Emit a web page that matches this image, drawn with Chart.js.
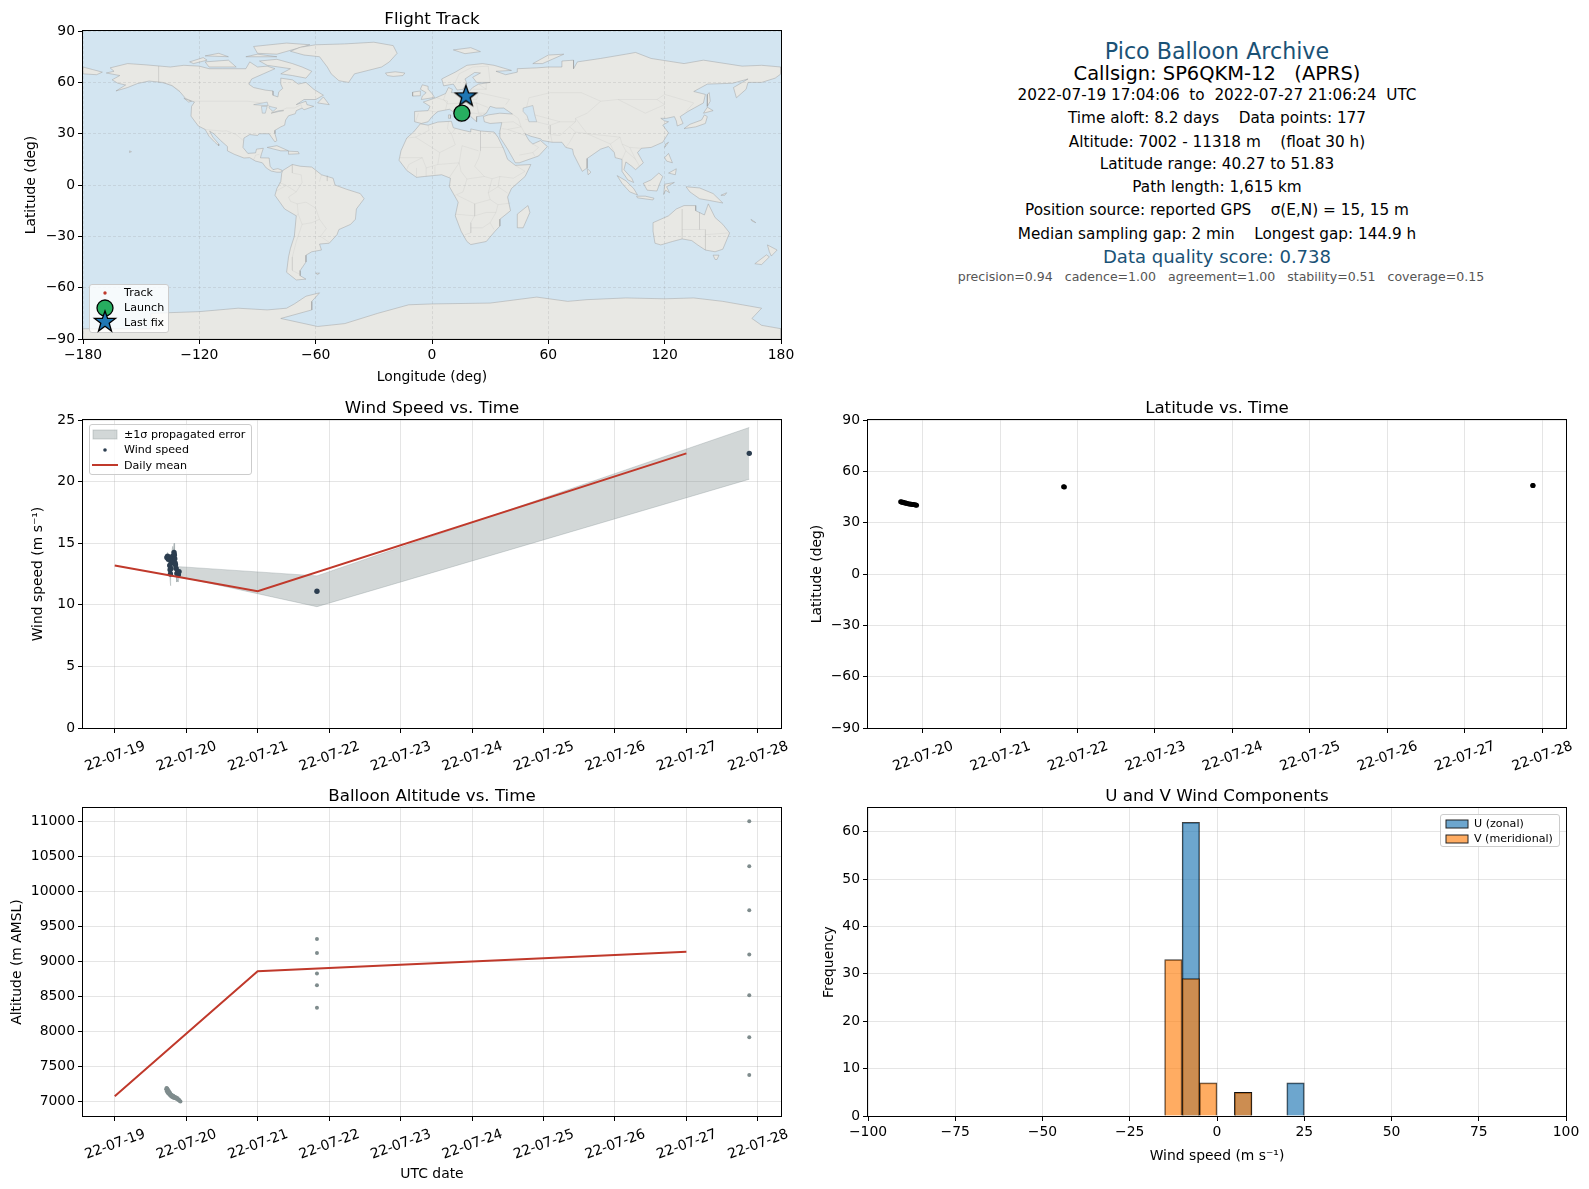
<!DOCTYPE html>
<html>
<head>
<meta charset="utf-8">
<title>Pico Balloon Archive</title>
<script src="https://cdn.jsdelivr.net/npm/chart.js@4/dist/chart.umd.js"></script>
<style>
html, body { margin: 0; padding: 0; background: #fff; }
body { position: relative; width: 1589px; height: 1189px; overflow: hidden; font-family: "DejaVu Sans", sans-serif; color: #000; }
canvas { position: absolute; }
.info { position: absolute; left: 817px; width: 800px; text-align: center; white-space: pre; transform: translateY(-50%); font-size: 15.28px; line-height: 1.2; }
.legend { position: absolute; box-sizing: border-box; background: rgba(255,255,255,0.8); border: 1px solid #ccc; border-radius: 3px; font-size: 11.1px; color: #000; }
.legend div { position: absolute; white-space: pre; line-height: 14px; }
.legend svg { position: absolute; overflow: visible; }
</style>
</head>
<body>

<canvas id="mapChart" width="800" height="376" style="left:0;top:10px"></canvas>
<canvas id="windChart" width="800" height="384" style="left:0;top:399px"></canvas>
<canvas id="latChart" width="785" height="384" style="left:800px;top:399px"></canvas>
<canvas id="altChart" width="800" height="396" style="left:0;top:787px"></canvas>
<canvas id="histChart" width="785" height="378" style="left:800px;top:787px"></canvas>

<div class="info" style="top:50.5px;font-size:22.2px;color:#1a5276">Pico Balloon Archive</div>
<div class="info" style="top:74px;font-size:19.44px">Callsign: SP6QKM-12   (APRS)</div>
<div class="info" style="top:94.5px">2022-07-19 17:04:06  to  2022-07-27 21:06:24  UTC</div>
<div class="info" style="top:117.5px">Time aloft: 8.2 days    Data points: 177</div>
<div class="info" style="top:141.5px">Altitude: 7002 - 11318 m    (float 30 h)</div>
<div class="info" style="top:163.5px">Latitude range: 40.27 to 51.83</div>
<div class="info" style="top:186.5px">Path length: 1,615 km</div>
<div class="info" style="top:209.5px">Position source: reported GPS    σ(E,N) = 15, 15 m</div>
<div class="info" style="top:233.5px">Median sampling gap: 2 min    Longest gap: 144.9 h</div>
<div class="info" style="top:257px;font-size:18.05px;color:#1a5276">Data quality score: 0.738</div>
<div class="info" style="top:277px;left:821px;font-size:12.56px;color:#555">precision=0.94   cadence=1.00   agreement=1.00   stability=0.51   coverage=0.15</div>

<div class="legend" style="left:89px;top:284px;width:80px;height:49px">
  <svg style="left:0;top:0" width="40" height="49">
    <circle cx="15" cy="8" r="1.7" fill="#c0392b"/>
    <circle cx="15" cy="23" r="8" fill="#27ae60" stroke="#000" stroke-width="1.3"/>
    <polygon points="15,26 17.6,33.4 25.5,33.4 19.2,38.2 21.5,46 15,41.3 8.5,46 10.8,38.2 4.5,33.4 12.4,33.4" fill="#1f77b4" stroke="#000" stroke-width="1.3"/>
  </svg>
  <div style="left:34px;top:1px">Track</div>
  <div style="left:34px;top:16px">Launch</div>
  <div style="left:34px;top:31px">Last fix</div>
</div>

<div class="legend" style="left:89px;top:424px;width:163px;height:51px">
  <svg style="left:0;top:0" width="30" height="50">
    <rect x="3" y="5" width="24" height="9" fill="rgba(127,140,141,0.35)" stroke="rgba(127,140,141,0.35)"/>
    <circle cx="15" cy="25" r="1.8" fill="#2c3e50"/>
    <line x1="2" y1="40" x2="28" y2="40" stroke="#c0392b" stroke-width="2"/>
  </svg>
  <div style="left:34px;top:3px">±1σ propagated error</div>
  <div style="left:34px;top:18px">Wind speed</div>
  <div style="left:34px;top:34px">Daily mean</div>
</div>

<div class="legend" style="left:1440px;top:814px;width:120px;height:33px">
  <svg style="left:0;top:0" width="30" height="32">
    <rect x="5" y="5" width="22" height="8" fill="rgba(31,119,180,0.65)" stroke="#222"/>
    <rect x="5" y="20" width="22" height="8" fill="rgba(255,127,14,0.65)" stroke="#222"/>
  </svg>
  <div style="left:33px;top:2px">U (zonal)</div>
  <div style="left:33px;top:17px">V (meridional)</div>
</div>

<script>
// daily tick labels on the date axes
const dateTicks = {
    19: '22-07-19', 20: '22-07-20', 21: '22-07-21', 22: '22-07-22', 23: '22-07-23',
    24: '22-07-24', 25: '22-07-25', 26: '22-07-26', 27: '22-07-27', 28: '22-07-28'
};
const altTicks = [7000, 7500, 8000, 8500, 9000, 9500, 10000, 10500, 11000];

// wind speed panel, x is the day of July 2022
const windTimes = [19.73, 19.74, 19.75, 19.76, 19.77, 19.775, 19.78, 19.785, 19.79, 19.80, 19.81, 19.82, 19.83, 19.835, 19.84, 19.845, 19.85, 19.86, 19.87, 19.88, 19.89, 19.90, 21.83, 27.88];
const windSpeed = [13.85, 13.95, 13.7, 13.75, 13.2, 12.85, 12.5, 12.95, 13.4, 13.65, 13.95, 13.6, 14.25, 14.05, 13.75, 13.4, 13.25, 12.95, 12.55, 12.6, 12.45, 12.7, 11.1, 22.3];
const windSigma = [0.35, 0.3, 0.3, 0.35, 0.5, 0.9, 0.95, 0.6, 0.5, 0.7, 0.8, 0.8, 0.75, 0.6, 0.6, 0.6, 0.5, 0.5, 0.7, 0.6, 0.6, 0.4, 1.25, 2.1];
const meanDays = [19, 21, 27];
const meanWind = [13.2, 11.1, 22.3];
const meanAlt = [7080, 8860, 9140];

// latitude and altitude panels
const fixTimes = [19.715, 19.725, 19.735, 19.745, 19.755, 19.765, 19.78, 19.79, 19.80, 19.82, 19.835, 19.85, 19.865, 19.88, 19.895, 19.91, 19.92, 21.82, 21.83, 27.88, 27.885];
const fixLat = [42.2, 42.1, 42.0, 41.9, 41.8, 41.6, 41.5, 41.4, 41.2, 41.0, 40.9, 40.8, 40.7, 40.6, 40.5, 40.4, 40.27, 51.0, 50.9, 51.8, 51.83];
const altTimes = [19.72, 19.725, 19.73, 19.735, 19.74, 19.745, 19.75, 19.755, 19.76, 19.77, 19.775, 19.78, 19.79, 19.795, 19.80, 19.81, 19.82, 19.83, 19.84, 19.85, 19.86, 19.87, 19.88, 19.89, 19.90, 19.91, 19.92, 21.83, 21.83, 21.83, 21.83, 21.83, 27.88, 27.88, 27.88, 27.88, 27.88, 27.88, 27.88];
const altValues = [7180, 7195, 7150, 7190, 7130, 7170, 7145, 7115, 7150, 7095, 7125, 7110, 7075, 7100, 7085, 7065, 7085, 7055, 7070, 7050, 7060, 7040, 7050, 7025, 7030, 7010, 7002, 9320, 9120, 8830, 8660, 8340, 11000, 10360, 9730, 9100, 8520, 7920, 7380];

// wind component histogram
const histBinCenters = [-12.5, -7.5, -2.5, 7.5, 22.5];
const uCounts = [null, 62, null, 5, 7];
const vCounts = [33, 29, 7, 5, null];

// flight track on the map
const trackLon = [15.4, 15.5, 15.5, 15.6, 15.6, 15.7, 15.8, 15.8, 15.9, 16.0, 16.0, 16.1, 16.1, 16.2, 16.2, 16.3, 16.3, 17.2, 17.2, 17.5, 17.5];
const launchFix = [15.4, 42.0];
const lastFix = [17.5, 51.83];

// coastlines as lon,lat
const northAmerica = [[-168,65.5],[-164,66.5],[-166,68.5],[-157,71],[-148,70.3],[-141,69.6],[-135,69],[-128,70],[-120,69.5],[-115,68],[-108,68],[-100,68],[-96,68],[-94,72],[-90,69],[-85,69.5],[-81,68],[-87,65],[-93,62],[-94.5,59],[-92,57],[-86,55.5],[-82,55],[-82,52.5],[-79.5,51.5],[-79,54.5],[-77,56.5],[-78,59],[-78,62.5],[-72,61.5],[-69,59],[-65,60],[-61,56],[-56,52.5],[-60,50],[-66,50],[-70,47],[-65,49],[-64.5,47],[-61,46],[-66,44],[-67,45],[-70,43.5],[-70.5,41.7],[-74,40.5],[-75.5,38],[-76,35],[-78,34],[-81,32],[-81,30],[-80,26],[-81,25.2],[-82.8,28],[-84,30],[-89,30],[-90,29],[-94,29.5],[-97,27.5],[-97.5,22],[-95,18.5],[-91,18.8],[-90.5,21],[-87,21.5],[-88,18],[-88.5,15.9],[-84,15.8],[-83.5,11],[-82,9],[-79.5,9.6],[-77.3,8.6],[-78,7.5],[-80,7.5],[-83,8.2],[-85.5,10],[-87.5,13],[-91,14],[-94,16],[-97,15.8],[-102,18],[-105.5,20],[-105.5,22.5],[-109,26],[-112.5,30],[-114.7,31.5],[-113,28],[-110,24],[-110,23],[-112,25],[-115,28.5],[-117,32.5],[-120.5,34.5],[-122.5,37.5],[-124.3,40.3],[-124,46],[-122.5,48.5],[-127,50.5],[-130,54.5],[-134,58],[-139,60],[-146,60.8],[-152,59.3],[-157,57],[-163,55],[-158,58.5],[-162,59.5],[-165,61.5],[-161,64],[-168,65.5]];
const greenland = [[-73,78.2],[-68,80.5],[-60,82],[-45,82.5],[-30,83.5],[-20,81.5],[-18,77],[-22,72],[-26,69],[-33,67],[-40,65],[-43,60],[-48,61],[-52,65],[-54,69],[-58,75],[-66,76],[-73,78.2]];
const southAmerica = [[-77,8.5],[-72,12],[-68,11],[-62,10.5],[-57,6],[-51,4],[-50,0],[-44,-2.5],[-37,-5],[-35,-8],[-39,-14],[-39.5,-20],[-42,-23],[-48,-26],[-49,-29],[-53,-34],[-58,-34.5],[-57,-38],[-62,-39],[-65,-41],[-65,-45],[-68,-50],[-68,-53],[-65,-55],[-70,-55.5],[-75,-51],[-74,-42],[-73,-37],[-71,-30],[-70,-18],[-76,-14],[-81,-6],[-80,-2],[-78,2],[-77.5,7],[-77,8.5]];
const africa = [[-6,35.8],[-2,35],[3,36.8],[10,37.3],[11,33.5],[15,32.3],[20,31],[20,32.8],[25,31.6],[32,31],[34,28],[37,21],[39,15],[43,11.5],[51,12],[48,5],[41,-2],[39,-7],[40.5,-15],[35,-20],[35,-24],[32.5,-27],[28,-33],[20,-34.8],[18,-33],[15,-27],[12,-18],[13.5,-10],[9,-1],[9.5,4],[5,6],[-4,5],[-8,4.5],[-13,8.5],[-17,14.5],[-16,20],[-13,27.5],[-9.5,31],[-6,35.8]];
const eurasia = [[-9,37],[-9,43],[-2,43.5],[-1,46],[-4.5,48.5],[2,51],[7,53.5],[8.5,57],[10.5,56],[10,54],[14,54],[19,54.5],[21,57],[24,59],[30,60],[23,60],[21,63],[25,65.5],[22,65.8],[17,62],[18,59.5],[16,56],[13,55.5],[11,59],[6,58],[5,62],[12,66],[18,70],[26,71],[32,70],[41,67],[33,66.5],[38,64.5],[44,66],[44,68],[54,68.5],[60,69],[67,69],[67,72.5],[73,73],[73,68],[75,72],[87,74],[100,76.5],[105,77.5],[113,74],[130,71],[140,73],[160,69.5],[170,70],[180,69],[180,65],[177,62.5],[170,60],[163,60],[162,56],[157,51],[155.5,57],[163,62],[155,59.5],[142,59],[135,54.7],[141,53],[140,48],[132,43],[128,40],[129.5,36],[126.5,34.5],[126,37.5],[125,40],[121,39],[118,39],[120,37.5],[122,37],[119,35],[122,30.5],[119,25],[113,22],[108,21.5],[106,19],[109,13],[105,9],[103,11],[100,13.5],[99,9],[103,4],[104,1.5],[101,3],[98,8],[98,15],[94.5,16],[94,19],[91,22.5],[87,21],[80,15.5],[80,10],[77.5,8],[73,18],[72.5,21],[69,22],[67,25],[62,25],[57,26],[56,27],[51,28.5],[48,30],[50,26],[52,24],[56,26],[59.5,22.5],[55,17],[45,13],[43,13],[39,21],[35,28],[35,31.5],[36,36.5],[30,36],[27,37],[26.5,40],[29,41],[35,42],[41.5,41.5],[37,45],[33,45],[30,46],[28,42],[26,40.5],[23,40],[23,37],[20,40],[19,42],[14,45.5],[12.5,44],[16,41.5],[18.5,40],[16,38],[12,42],[9,44.3],[3,43],[0,40],[-2,37],[-5.5,36],[-9,37]];
const australia = [[114,-22],[122,-18],[126,-14],[130,-12],[136,-12],[136,-15],[140.5,-17.5],[142.5,-11],[146,-19],[150,-23],[153.5,-28],[150,-37.5],[146,-39],[141,-38],[137,-35],[134,-32.5],[129,-31.5],[124,-33],[118,-35],[115,-34],[114,-27],[114,-22]];
const antarctica = [[-180,-90],[-180,-84],[-145,-84],[-145,-75],[-120,-74],[-100,-72],[-85,-73],[-75,-72],[-71,-69.5],[-65,-65],[-58,-63],[-62,-68],[-62,-73],[-78,-78],[-59,-82.7],[-45,-81],[-28,-75],[-12,-70],[0,-69.5],[30,-69],[54,-65.5],[70,-68],[80,-67],[100,-66],[120,-66.5],[135,-66],[150,-68],[165,-71],[170,-72],[165,-78],[170,-82],[180,-84],[180,-90],[-180,-90]];
const islands = [
    [[-180,69],[-175,67.5],[-170,66],[-173,64.5],[-180,65],[-180,69]],
    [[-80,73.5],[-72,71],[-67,69],[-62,66.5],[-65,62.5],[-72,64],[-78,65],[-73,68],[-85,70],[-89,72.5],[-80,73.5]],
    [[-117,72],[-105,73],[-101,69],[-115,69],[-117,72]],
    [[-125,72],[-118,74.5],[-116,73],[-123,71],[-125,72]],
    [[-90,77],[-80,76.5],[-63,82],[-75,83],[-92,81],[-90,77]],
    [[-96,75],[-80,75],[-90,76.5],[-96,75]],
    [[-117,75.5],[-105,75],[-110,77],[-117,75.5]],
    [[-59,48],[-56,51.5],[-53,47],[-59,48]],
    [[-85,22],[-80,23],[-74,20],[-78,20],[-85,22]],
    [[-74,19.8],[-69,19.5],[-68.5,18.3],[-74,18],[-74,19.8]],
    [[-128,50.8],[-124,49],[-125.5,48.5],[-128,50.8]],
    [[-24,65.5],[-19,66.2],[-14,65.5],[-15,64],[-20,63.5],[-23,64],[-24,65.5]],
    [[-5.5,50],[1.3,51.2],[0,53.5],[-2,56],[-2,57.7],[-5,58.6],[-6,56],[-3,54],[-5,52],[-5.5,50]],
    [[-10,52],[-6,52.2],[-6,55],[-10,54.3],[-10,52]],
    [[11,79],[20,80.3],[25,78],[17,76.8],[11,79]],
    [[52,71],[57,71],[68,76.5],[60,76],[52,71]],
    [[130,33],[136,34],[141,36],[142,40],[140.5,41],[139,38],[133,35.5],[130,33]],
    [[140,42],[145,43.5],[142,45.5],[140,42]],
    [[142,46],[143.5,49],[143,54],[142,53],[142,46]],
    [[120,22],[122,25],[120.5,24],[120,22]],
    [[120,16],[122,18.5],[124,13],[121,14],[120,16]],
    [[122,7],[126,9.5],[125.5,6],[122,7]],
    [[109,1],[113,3],[117,7],[119,5],[117.5,1],[116,-3.5],[111,-3],[109,1]],
    [[95.5,5.5],[100,2.5],[104,-2],[106,-5.8],[102,-4],[98,1],[95.5,5.5]],
    [[105.5,-6.5],[110,-6.5],[114.5,-7.7],[114,-8.7],[106,-7.5],[105.5,-6.5]],
    [[119.5,-5.5],[120,0.5],[125,1.5],[121,-1],[122.5,-4.5],[120.5,-3],[119.5,-5.5]],
    [[131,-1],[138,-1.7],[145,-5],[150,-10.5],[143,-9],[138,-8],[133,-4],[131,-1]],
    [[145,-41],[148,-41],[147,-43.5],[146,-43.5],[145,-41]],
    [[173,-35],[178,-38],[175,-41.5],[174,-39],[173,-35]],
    [[172.5,-40.8],[174,-42],[170,-46.5],[166.5,-46],[172.5,-40.8]],
    [[49.5,-12],[50.5,-16],[47,-25],[44,-25],[44,-17],[49.5,-12]],
    [[80,9.7],[82,7.5],[80.5,6],[80,9.7]],
    [[8.5,41],[9.7,41],[9.5,39],[8.5,39],[8.5,41]],
    [[12.5,38],[15.5,38],[15,36.7],[12.5,38]],
    [[149,-6],[152,-4.5],[151,-6],[149,-6]],
    [[-156,20],[-155,19.5],[-156,19],[-156,20]],
    [[-60,-51.5],[-58,-51.5],[-59,-52.3],[-60,-51.5]],
    [[165,-21],[167,-22],[164.5,-20],[165,-21]]
];
const inlandWater = [
    [[47,45],[52,46.5],[53,41],[54,37],[50,37],[49,40.5],[47,43],[47,45]],
    [[-92,47],[-85,48.5],[-84.5,46.5],[-87,46.5],[-92,47]],
    [[-88,46],[-85,46],[-86,42],[-87.5,42],[-88,46]],
    [[-84,46],[-80,45],[-82,43],[-84,45],[-84,46]],
    [[-83,42],[-79,43],[-76.5,43.5],[-79,43.5],[-83,42]]
];
const countryBorders = [
    [[-123,49],[-95,49],[-88,48],[-83,46],[-82.5,42.5],[-79,43],[-75,45],[-71,45],[-67.5,47],[-67,45]],
    [[-141,69.6],[-141,60],[-135,59],[-130,55]],
    [[-117,32.5],[-108,31.5],[-106,31.7],[-101,29.5],[-97.3,26]],
    [[-92,14.5],[-91,17.5],[-89,17.9]],
    [[-72,12],[-72,7],[-67.5,6],[-67,1.5],[-70,-4],[-74,-7],[-73,-9.5],[-69.5,-11],[-65,-10],[-60,-13.5],[-58,-20],[-54.5,-25.5],[-57.5,-30],[-53,-33.5]],
    [[-79,1.5],[-75.5,0],[-70,-4]],
    [[-80.3,-3.4],[-75.5,-0.5]],
    [[-69.5,-11],[-69,-17],[-70,-18]],
    [[-69,-17],[-67,-23],[-70,-33],[-72,-42],[-72,-50],[-68.5,-52]],
    [[-67,-23],[-62,-22],[-58,-20]],
    [[-60,5],[-60,8.5]],[[-57,6],[-58,2]],[[-54,5.5],[-54,2.3]],
    [[-2,35],[-1.5,32],[-8.5,28],[-13,27.5]],
    [[-8.5,28],[4,19],[12,23.5],[10,30],[8,33],[8.5,37]],
    [[10,30],[12,33]],
    [[25,31.6],[25,20],[24,15.5],[22,11],[27,5],[31,3.7],[35,5],[42,4],[48,8],[43,11.5]],
    [[25,22],[37,22]],
    [[24,20],[15.5,23],[14,13]],
    [[4,19],[3,12],[14,13],[9,4.5]],
    [[-16.5,16],[-5,16],[-12,12],[-13,9]],
    [[-5,16],[-3,10],[3,12]],
    [[-3,5],[-3,10]],[[1.5,6],[1.5,11]],[[-8,4.5],[-8,10]],
    [[14,13],[15,8],[18,3.5],[27,5]],
    [[18,3.5],[16,-4],[12,-6]],
    [[31,3.7],[29,-4.5],[30,-8.5],[22,-11],[13,-6]],
    [[39,-4.7],[34,-1],[35,5]],
    [[29,-4.5],[34,-1]],
    [[30,-8.5],[34,-11.5],[40.5,-10.5]],
    [[22,-11],[22,-18],[12,-17]],
    [[22,-18],[20,-22],[20,-28],[17,-29]],
    [[34,-11.5],[33,-16],[30,-22],[32,-26]],
    [[22,-18],[28,-16],[33,-16]],
    [[20,-25],[26,-25],[30,-22]],
    [[-1.5,43.5],[3,42.5]],[[-8.5,37],[-7,42]],
    [[2.5,51],[8,49],[7,44]],
    [[7,53.5],[6,50],[8,47.5],[17,48],[14,54]],
    [[14,54],[24,54],[23,50],[14,51]],
    [[17,48],[23,48],[29,45.3]],
    [[24,54],[32,52],[40,50],[38,47]],
    [[28,56],[28,60]],[[24,59],[28,56],[21,56]],
    [[30,60],[29,69.5]],[[12,60],[14,65],[21,69],[29,69.5]],
    [[23,48],[24,42],[28,42]],[[19,42],[22,42],[26,41]],
    [[48,42],[50,51],[61,54],[77,54],[87,49],[96,50],[116,50],[120,53],[135,48],[131,43]],
    [[87,49],[80,42],[74,39],[80,30],[97,28],[98,24],[102,22],[108,21.5]],
    [[96,50],[110,42],[120,47],[116,50]],
    [[53,41],[66,37],[74,37],[74,39]],
    [[66,37],[61,35],[61,30],[62,25]],
    [[74,37],[71,34],[66,29],[61,29.5]],
    [[71,34],[74,31],[71,25],[69,22]],
    [[74,31],[80,30],[88,26],[92,24],[94,19]],
    [[92,24],[97,28]],
    [[98,24],[100,20],[98,15]],[[102,22],[105,15],[107,11]],[[100,20],[105,15]],
    [[48,30],[46,34],[44.5,39],[41.5,41.5]],
    [[61,35],[48,38.5]],[[46,34],[39,32.5],[36,33]],
    [[46,34],[42,37],[36,36.5]],
    [[39,32.5],[48,29]],
    [[52,19],[55,22],[52,24]],[[45,17.5],[52,19],[53,17]],
    [[129,-14],[129,-31.5]],[[138,-16],[138,-26]],[[129,-26],[141,-26],[141,-38]],[[141,-29],[153,-28]]
];

const GRID = 'rgba(176,176,176,0.33)';
const FONT_SIZE = 13.9;
const HALF_LINE = FONT_SIZE * 1.2 / 2;

Chart.defaults.font.family = '"DejaVu Sans"';
Chart.defaults.font.size = FONT_SIZE;
Chart.defaults.color = '#000';

const framePlugin = {
    id: 'frame',
    afterDraw(chart) {
        const a = chart.chartArea;
        const ctx = chart.ctx;
        ctx.save();
        ctx.strokeStyle = '#000';
        ctx.lineWidth = 1;
        ctx.strokeRect(Math.round(a.left) - 0.5, Math.round(a.top) - 0.5, Math.round(a.right - a.left) + 1, Math.round(a.bottom - a.top) + 1);
        ctx.restore();
    }
};

const oceanPlugin = {
    id: 'ocean',
    beforeDatasetsDraw(chart) {
        const a = chart.chartArea;
        chart.ctx.save();
        chart.ctx.fillStyle = '#d3e5f1';
        chart.ctx.fillRect(a.left, a.top, a.right - a.left, a.bottom - a.top);
        chart.ctx.restore();
    }
};

function points(xs, ys) {
    return xs.map((x, i) => ({ x: x, y: ys[i] }));
}

function lonLat(list) {
    return list.map(p => ({ x: p[0], y: p[1] }));
}

function minusSign(v) {
    return String(v).replace('-', '\u2212');
}

function axis(opts) {
    const conf = {
        type: 'linear',
        offset: false,
        min: opts.min,
        max: opts.max,
        afterFit: opts.afterFit,
        border: { display: false },
        grid: {
            offset: false,
            color: opts.mapGrid ? 'rgba(150,150,150,0.22)' : GRID,
            tickColor: '#000', tickLength: 5, lineWidth: 1,
            tickBorderDash: [],
            z: opts.mapGrid ? 1 : 0
        },
        ticks: {
            stepSize: opts.step,
            includeBounds: false,
            autoSkip: false,
            padding: 3,
            callback: opts.callback || minusSign
        },
        title: { display: !!opts.title, text: opts.title, padding: 0, font: { size: FONT_SIZE } }
    };
    if (opts.mapGrid) {
        conf.border = { display: false, dash: [3, 2] };
    }
    if (opts.dates) {
        conf.ticks.minRotation = 20;
        conf.ticks.maxRotation = 20;
        conf.ticks.labelOffset = 30;
        conf.ticks.padding = 5;
        conf.ticks.callback = v => dateTicks[Math.round(v)];
    }
    if (opts.fixedTicks) {
        conf.afterBuildTicks = s => { s.ticks = opts.fixedTicks.map(v => ({ value: v })); };
    }
    return conf;
}

function panelOptions(cfg) {
    const padLeft = cfg.yTitleX - HALF_LINE;
    const axisWidth = cfg.plotLeft - padLeft;
    const xAxis = axis(Object.assign({}, cfg.x, { afterFit: s => { s.height = cfg.axisHeight; } }));
    const yAxis = axis(Object.assign({}, cfg.y, { afterFit: s => { s.width = axisWidth; } }));
    return {
        responsive: false,
        animation: false,
        layout: { padding: { left: padLeft, right: 19, top: 0, bottom: 0 } },
        plugins: {
            legend: { display: false },
            tooltip: { enabled: false },
            title: {
                display: true,
                fullSize: false,
                text: cfg.title,
                font: { size: 16.67, weight: 'normal' },
                color: '#000',
                padding: { top: 0, bottom: 1.08 }
            }
        },
        scales: { x: xAxis, y: yAxis }
    };
}

function starMarker() {
    const c = document.createElement('canvas');
    c.width = 26;
    c.height = 26;
    const ctx = c.getContext('2d');
    ctx.beginPath();
    for (let i = 0; i < 10; i++) {
        const r = i % 2 === 0 ? 11 : 4.4;
        const ang = -Math.PI / 2 + i * Math.PI / 5;
        ctx.lineTo(13 + r * Math.cos(ang), 13 + r * Math.sin(ang));
    }
    ctx.closePath();
    ctx.fillStyle = '#1f77b4';
    ctx.fill();
    ctx.strokeStyle = '#000';
    ctx.lineWidth = 1.3;
    ctx.stroke();
    return c;
}

function landSet(list) {
    return {
        data: lonLat(list), showLine: true, pointRadius: 0, tension: 0,
        fill: 'shape', backgroundColor: '#e8e8e4',
        borderColor: 'rgba(150,150,150,0.6)', borderWidth: 0.7, order: 30
    };
}

function waterSet(list) {
    return {
        data: lonLat(list), showLine: true, pointRadius: 0, tension: 0,
        fill: 'shape', backgroundColor: '#d3e5f1',
        borderColor: 'rgba(150,150,150,0.6)', borderWidth: 0.6, order: 20
    };
}

function borderSet(list) {
    return {
        data: lonLat(list), showLine: true, pointRadius: 0, tension: 0,
        fill: false, borderColor: 'rgba(150,150,150,0.2)', borderWidth: 0.6, order: 25
    };
}

function drawMap() {
    const land = [northAmerica, greenland, southAmerica, africa, eurasia, australia, antarctica].concat(islands);
    const sets = land.map(landSet)
        .concat(countryBorders.map(borderSet))
        .concat(inlandWater.map(waterSet));
    sets.push({
        label: 'Track', data: points(trackLon, fixLat), pointRadius: 1.5,
        backgroundColor: '#c0392b', borderWidth: 0, order: 5
    });
    sets.push({
        label: 'Launch', data: [{ x: launchFix[0], y: launchFix[1] }], pointRadius: 8,
        backgroundColor: '#27ae60', borderColor: '#000', borderWidth: 1.3, order: 4
    });
    sets.push({
        label: 'Last fix', data: [{ x: lastFix[0], y: lastFix[1] }], pointStyle: starMarker(),
        pointRadius: 11, order: 3
    });
    new Chart(document.getElementById('mapChart'), {
        type: 'scatter',
        data: { datasets: sets },
        options: panelOptions({
            title: 'Flight Track', plotLeft: 83, yTitleX: 31.5, axisHeight: 47,
            x: { min: -180, max: 180, step: 60, title: 'Longitude (deg)', mapGrid: true },
            y: { min: -90, max: 90, step: 30, title: 'Latitude (deg)', mapGrid: true }
        }),
        plugins: [oceanPlugin, framePlugin]
    });
}

function drawWind() {
    const upper = windSpeed.map((v, i) => v + windSigma[i]);
    const lower = windSpeed.map((v, i) => v - windSigma[i]);
    new Chart(document.getElementById('windChart'), {
        type: 'scatter',
        data: {
            datasets: [
                {
                    label: 'Daily mean', data: points(meanDays, meanWind), showLine: true, pointRadius: 0,
                    borderColor: '#c0392b', borderWidth: 2, tension: 0, order: 1
                },
                {
                    label: 'Wind speed', data: points(windTimes, windSpeed), pointRadius: 2.7,
                    backgroundColor: '#2c3e50', borderWidth: 0, order: 2
                },
                {
                    label: 'upper', data: points(windTimes, upper), showLine: true, pointRadius: 0, tension: 0,
                    borderColor: 'rgba(127,140,141,0.3)', borderWidth: 1,
                    fill: '+1', backgroundColor: 'rgba(127,140,141,0.35)', order: 3
                },
                {
                    label: 'lower', data: points(windTimes, lower), showLine: true, pointRadius: 0, tension: 0,
                    borderColor: 'rgba(127,140,141,0.3)', borderWidth: 1, order: 4
                }
            ]
        },
        options: panelOptions({
            title: 'Wind Speed vs. Time', plotLeft: 83, yTitleX: 38.5, axisHeight: 55,
            x: { min: 18.556, max: 28.324, step: 1, dates: true },
            y: { min: 0, max: 25, step: 5, title: 'Wind speed (m s\u207B\u00B9)' }
        }),
        plugins: [framePlugin]
    });
}

function drawLatitude() {
    new Chart(document.getElementById('latChart'), {
        type: 'scatter',
        data: {
            datasets: [{
                label: 'Latitude', data: points(fixTimes, fixLat), pointRadius: 2.5,
                backgroundColor: '#000', borderWidth: 0
            }]
        },
        options: panelOptions({
            title: 'Latitude vs. Time', plotLeft: 68, yTitleX: 17, axisHeight: 55,
            x: { min: 19.293, max: 28.31, step: 1, dates: true },
            y: { min: -90, max: 90, step: 30, title: 'Latitude (deg)' }
        }),
        plugins: [framePlugin]
    });
}

function drawAltitude() {
    new Chart(document.getElementById('altChart'), {
        type: 'scatter',
        data: {
            datasets: [
                {
                    label: 'Daily mean', data: points(meanDays, meanAlt), showLine: true, pointRadius: 0,
                    borderColor: '#c0392b', borderWidth: 2, tension: 0, order: 1
                },
                {
                    label: 'Altitude', data: points(altTimes, altValues), pointRadius: 2,
                    backgroundColor: '#7f8c8d', borderWidth: 0, order: 2
                }
            ]
        },
        options: panelOptions({
            title: 'Balloon Altitude vs. Time', plotLeft: 83, yTitleX: 17, axisHeight: 67,
            x: { min: 18.556, max: 28.324, step: 1, dates: true, title: 'UTC date' },
            y: { min: 6797, max: 11188, fixedTicks: altTicks, title: 'Altitude (m AMSL)', callback: v => String(v) }
        }),
        plugins: [framePlugin]
    });
}

function drawHistogram() {
    new Chart(document.getElementById('histChart'), {
        type: 'bar',
        data: {
            datasets: [
                {
                    label: 'V (meridional)', data: points(histBinCenters, vCounts),
                    backgroundColor: 'rgba(255,127,14,0.65)', borderColor: 'rgba(0,0,0,0.75)', borderWidth: 1,
                    grouped: false, barPercentage: 1, categoryPercentage: 1, order: 1
                },
                {
                    label: 'U (zonal)', data: points(histBinCenters, uCounts),
                    backgroundColor: 'rgba(31,119,180,0.65)', borderColor: 'rgba(0,0,0,0.75)', borderWidth: 1,
                    grouped: false, barPercentage: 1, categoryPercentage: 1, order: 2
                }
            ]
        },
        options: panelOptions({
            title: 'U and V Wind Components', plotLeft: 68, yTitleX: 29, axisHeight: 49,
            x: { min: -100, max: 100, step: 25, title: 'Wind speed (m s\u207B\u00B9)' },
            y: { min: 0, max: 65, step: 10, title: 'Frequency' }
        }),
        plugins: [framePlugin]
    });
}

drawMap();
drawWind();
drawLatitude();
drawAltitude();
drawHistogram();
</script>
</body>
</html>
